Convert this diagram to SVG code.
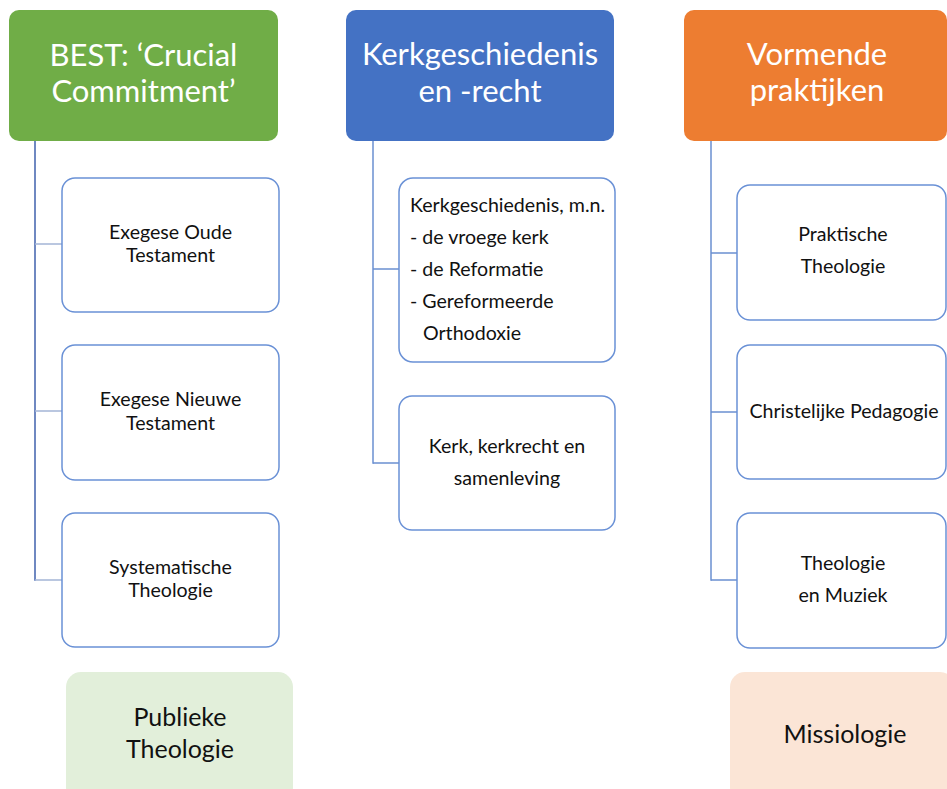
<svg xmlns="http://www.w3.org/2000/svg" width="947" height="789" viewBox="0 0 947 789">
<style>
.hdr text{font-family:Lato,"Liberation Sans",sans-serif;font-size:31px;fill:#fff;text-anchor:middle}
.box rect{fill:#fff;stroke:#6a91d6;stroke-width:1.5}
.box text{font-family:Lato,"Liberation Sans",sans-serif;font-size:19.6px;fill:#111;text-anchor:middle}
.box text.l{text-anchor:start}
.big text{font-family:Lato,"Liberation Sans",sans-serif;font-size:25px;fill:#111;text-anchor:middle}
.conn line{stroke:#6a8fd0;stroke-width:1.5}
</style>
<rect width="947" height="789" fill="#fff"/>
<g class="conn" id="connectors">
<line x1="35" y1="141" x2="35" y2="580.7" style="stroke:#3f61ad"/>
<line x1="35" y1="244" x2="62" y2="244" style="stroke:#a3b4d6"/>
<line x1="35" y1="411" x2="62" y2="411" style="stroke:#a3b4d6"/>
<line x1="35" y1="580" x2="62" y2="580" style="stroke:#a3b4d6"/>
<line x1="373" y1="141" x2="373" y2="463.7"/>
<line x1="373" y1="269" x2="399" y2="269"/>
<line x1="373" y1="463" x2="399" y2="463"/>
<line x1="711" y1="141" x2="711" y2="580.7"/>
<line x1="711" y1="253" x2="737" y2="253"/>
<line x1="711" y1="412" x2="737" y2="412"/>
<line x1="711" y1="580" x2="737" y2="580"/>
</g>
<g class="hdr" id="best">
<rect x="9" y="10" width="269" height="131" rx="10" fill="#70AD47"/>
<text x="143.5" y="66">BEST: ‘Crucial</text>
<text x="143.5" y="102">Commitment’</text>
</g>
<g class="hdr" id="kerk">
<rect x="346" y="10" width="268" height="131" rx="10" fill="#4472C4"/>
<text x="480" y="65">Kerkgeschiedenis</text>
<text x="480" y="102">en -recht</text>
</g>
<g class="hdr" id="vormende">
<rect x="684" y="10" width="263" height="131" rx="10" fill="#ED7D31"/>
<text x="817" y="65">Vormende</text>
<text x="817" y="101">praktijken</text>
</g>
<g class="box" id="exegese-ot">
<rect x="62" y="178" width="217" height="134" rx="13"/>
<text x="170.5" y="239">Exegese Oude</text>
<text x="170.5" y="262">Testament</text>
</g>
<g class="box" id="exegese-nt">
<rect x="62" y="345" width="217" height="135" rx="13"/>
<text x="170.5" y="406">Exegese Nieuwe</text>
<text x="170.5" y="430">Testament</text>
</g>
<g class="box" id="systematische">
<rect x="62" y="513" width="217" height="134" rx="13"/>
<text x="170.5" y="574">Systematische</text>
<text x="170.5" y="597">Theologie</text>
</g>
<g class="box" id="kerkgeschiedenis">
<rect x="399" y="178" width="216" height="184" rx="14"/>
<text class="l" x="410" y="212">Kerkgeschiedenis, m.n.</text>
<text class="l" x="410" y="244">- de vroege kerk</text>
<text class="l" x="410" y="276">- de Reformatie</text>
<text class="l" x="410" y="308">- Gereformeerde</text>
<text class="l" x="423" y="340">Orthodoxie</text>
</g>
<g class="box" id="kerkrecht">
<rect x="399" y="396" width="216" height="134" rx="13"/>
<text x="507" y="453">Kerk, kerkrecht en</text>
<text x="507" y="485">samenleving</text>
</g>
<g class="box" id="praktische">
<rect x="737" y="185" width="209" height="135" rx="13"/>
<text x="843" y="241">Praktische</text>
<text x="843" y="273">Theologie</text>
</g>
<g class="box" id="pedagogie">
<rect x="737" y="345" width="209" height="134" rx="13"/>
<text x="844" y="418">Christelijke Pedagogie</text>
</g>
<g class="box" id="muziek">
<rect x="737" y="513" width="209" height="135" rx="13"/>
<text x="843" y="570">Theologie</text>
<text x="843" y="602">en Muziek</text>
</g>
<g class="big" id="publieke">
<rect x="66" y="672" width="227" height="130" rx="15" fill="#E2EFDA"/>
<text x="180" y="726">Publieke</text>
<text x="180" y="758">Theologie</text>
</g>
<g class="big" id="missiologie">
<rect x="730" y="672" width="225" height="130" rx="15" fill="#FBE5D6"/>
<text x="845" y="743">Missiologie</text>
</g>
</svg>
